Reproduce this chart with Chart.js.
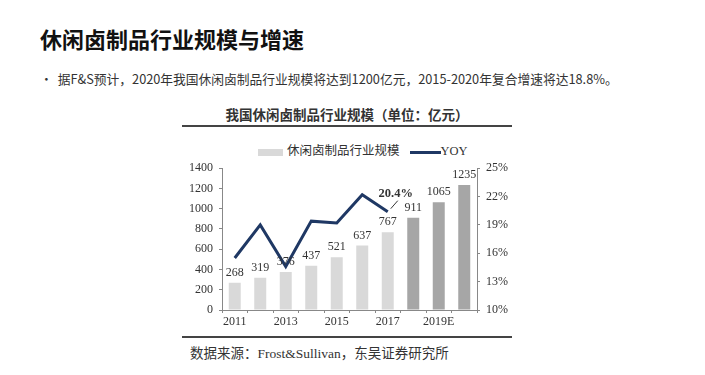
<!DOCTYPE html>
<html>
<head>
<meta charset="utf-8">
<script src="https://cdn.jsdelivr.net/npm/chart.js@4.4.1/dist/chart.umd.min.js"></script>
<style>
  body { margin: 0; width: 705px; height: 375px; background: #fff; position: relative; overflow: hidden; font-family: "Noto Sans CJK SC", "Noto Sans", sans-serif; }
  #title { position: absolute; left: 40px; top: 22px; font-size: 22px; font-weight: bold; color: #111; }
  #bullet { position: absolute; left: 40px; top: 69px; font-size: 12.75px; color: #333; }
  #bullet span { margin-right: 5px; }
  #ctitle { position: absolute; left: 182px; width: 330px; top: 104px; text-align: center; font-size: 13.5px; font-weight: bold; color: #333; font-family: "Liberation Serif", "Noto Sans CJK SC", serif; }
  .rule { position: absolute; left: 182px; width: 330px; height: 2px; background: #444; }
  #legend { position: absolute; top: 140px; left: 258px; font-size: 12.5px; color: #333; font-family: "Liberation Serif", "Noto Sans CJK SC", serif; white-space: nowrap; }
  #legend i { display: inline-block; vertical-align: middle; }
  #source { position: absolute; left: 190px; top: 342px; font-size: 13.5px; color: #333; font-family: "Liberation Serif", "Noto Sans CJK SC", serif; }
  #wrap { position: absolute; left: 180px; top: 155px; width: 340px; height: 180px; }
</style>
</head>
<body>
<div id="title">休闲卤制品行业规模与增速</div>
<div id="bullet"><span>•</span>据F&amp;S预计，2020年我国休闲卤制品行业规模将达到1200亿元，2015-2020年复合增速将达18.8%。</div>
<div id="ctitle">我国休闲卤制品行业规模（单位：亿元）</div>
<div class="rule" style="top:125px"></div>
<div id="legend"><i style="width:25px;height:7px;background:#d9d9d9;margin-right:4px"></i>休闲卤制品行业规模<i style="width:31px;height:3px;background:#1f3864;margin-left:10px"></i>YOY</div>
<div id="wrap"><canvas id="c" width="340" height="180"></canvas></div>
<div class="rule" style="top:336px"></div>
<div id="source">数据来源：Frost&amp;Sullivan，东吴证券研究所</div>
<script>
// 数据
var years = ['2011', '2012', '2013', '2014', '2015', '2016', '2017', '2018', '2019E', '2020E'];
var scale = [268, 319, 376, 437, 521, 637, 767, 911, 1065, 1235];
var yoy = [15.5, 19.0, 14.6, 19.4, 19.2, 22.2, 20.4, null, null, null];
var barColors = ['#d9d9d9', '#d9d9d9', '#d9d9d9', '#d9d9d9', '#d9d9d9', '#d9d9d9', '#d9d9d9', '#a6a6a6', '#a6a6a6', '#a6a6a6'];

Chart.defaults.font.family = '"Liberation Serif", "Noto Sans CJK SC", serif';
Chart.defaults.font.size = 12;
Chart.defaults.color = '#333';

// rótulos das barras + 20.4%
var labelPlugin = {
  id: 'labels',
  afterDatasetsDraw: function(chart) {
    var ctx = chart.ctx;
    ctx.save();
    ctx.fillStyle = '#333';
    ctx.textAlign = 'center';
    ctx.textBaseline = 'bottom';
    ctx.font = '12px "Liberation Serif", serif';
    chart.getDatasetMeta(1).data.forEach(function(el, i) {
      ctx.fillText(scale[i], el.x, el.y - 4);
    });
    var pts = chart.getDatasetMeta(0).data;
    var last = pts[6];
    ctx.font = 'bold 12.5px "Liberation Serif", serif';
    ctx.fillText(yoy[6].toFixed(1) + '%', last.x + 8, last.y - 12);
    ctx.strokeStyle = '#333';
    ctx.lineWidth = 1;
    ctx.beginPath();
    ctx.moveTo(last.x + 3, last.y - 3);
    ctx.lineTo(last.x + 10, last.y - 11);
    ctx.stroke();
    ctx.restore();
  }
};

new Chart(document.getElementById('c'), {
  data: {
    labels: years,
    datasets: [
      {
        type: 'line',
        data: yoy,
        yAxisID: 'y2',
        borderColor: '#1f3864',
        borderWidth: 3,
        pointRadius: 0,
        tension: 0,
        spanGaps: false
      },
      {
        type: 'bar',
        data: scale,
        yAxisID: 'y',
        backgroundColor: barColors,
        barPercentage: 0.47,
        categoryPercentage: 1
      }
    ]
  },
  options: {
    responsive: false,
    animation: false,
    layout: { padding: { top: 13, left: 0, right: 0, bottom: 0 } },
    plugins: { legend: { display: false }, tooltip: { enabled: false } },
    scales: {
      x: {
        grid: { display: true, drawOnChartArea: false, offset: true, tickLength: 3, color: '#888' },
        border: { color: '#888' },
        ticks: {
          autoSkip: false, maxRotation: 0, padding: 2,
          callback: function(v, i) { return i % 2 === 0 && i < 9 ? years[i] : ''; }
        },
        afterFit: function(s) { s.height = 25; }
      },
      y: {
        position: 'left',
        min: 0, max: 1400,
        ticks: { stepSize: 200, padding: 6, callback: function(v) { return String(v); } },
        grid: { drawOnChartArea: false, tickLength: 3, color: '#888' },
        border: { color: '#888' },
        afterFit: function(s) { s.width = 42; }
      },
      y2: {
        position: 'right',
        min: 10, max: 25,
        ticks: { stepSize: 3, padding: 6, callback: function(v) { return v + '%'; } },
        grid: { drawOnChartArea: false, tickLength: 3, color: '#888' },
        border: { color: '#888' },
        afterFit: function(s) { s.width = 43; }
      }
    }
  },
  plugins: [labelPlugin]
});
</script>
</body>
</html>
